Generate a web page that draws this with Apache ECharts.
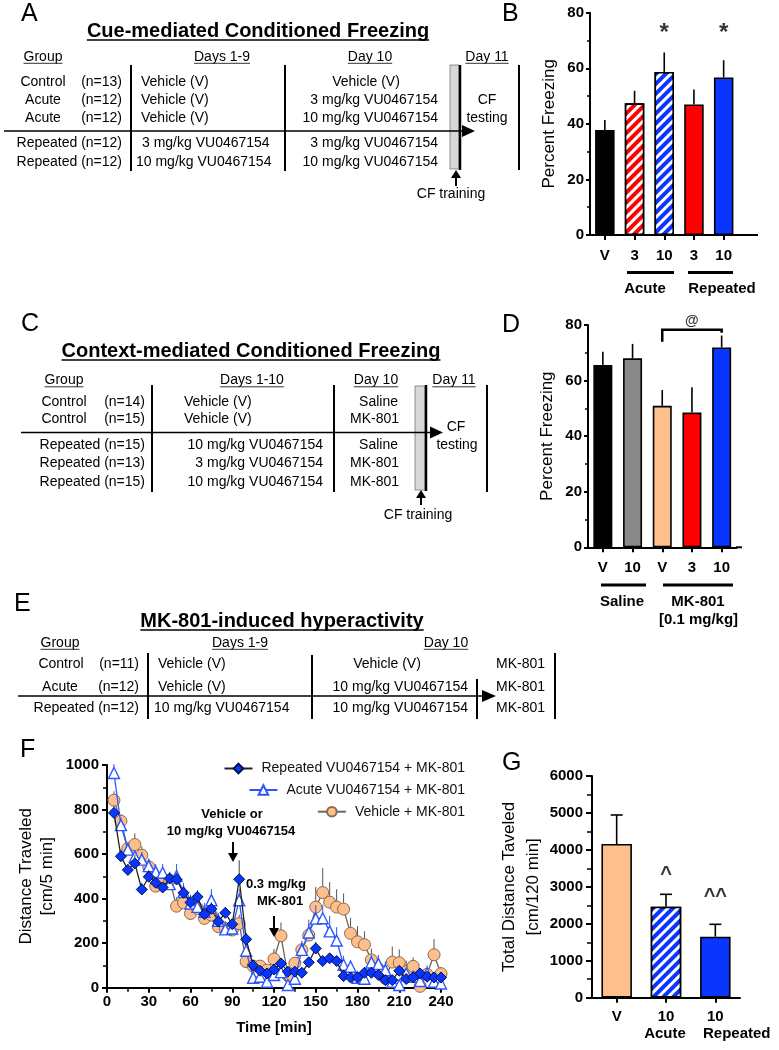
<!DOCTYPE html>
<html>
<head>
<meta charset="utf-8">
<script src="https://cdn.jsdelivr.net/npm/echarts@6/dist/echarts.min.js"></script>
<style>
html,body{margin:0;padding:0;background:#fff;}
#chart{width:779px;height:1050px;}
</style>
</head>
<body>
<div id="chart"></div>
<script>
// ---------------- DATA ----------------
// Panel B: cue-mediated freezing
const bCats = ['V', '3', '10', '3', '10'];
const bValues = [37.8, 47.4, 58.7, 47.0, 56.7];
const bErrors = [3.6, 4.5, 7.0, 5.4, 6.2];
const bSigPos = [[2, 72.5], [4, 72.5]];
const bSigText = ['*', '*'];

// Panel D: context-mediated freezing
const dCats = ['V', '10', 'V', '3', '10'];
const dValues = [65.6, 68.0, 50.9, 48.5, 71.9];
const dErrors = [4.8, 5.2, 5.7, 9.1, 4.3];
const dBracket = [2, 4, 78.3, 74, 77.2]; // from idx, to idx, top, left end, right end
const dSigPos = [[3, 81.5]];

// Panel F: time course
const fTime = [5, 10, 15, 20, 25, 30, 35, 40, 45, 50, 55, 60, 65, 70, 75, 80, 85, 90, 95, 100, 105, 110, 115, 120,
  125, 130, 135, 140, 145, 150, 155, 160, 165, 170, 175, 180, 185, 190, 195, 200, 205, 210, 215, 220, 225, 230, 235, 240];
const fRepeated = [785, 590, 529, 558, 441, 498, 471, 450, 490, 486, 426, 383, 408, 330, 354, 297, 336, 285, 487, 217, 100, 76, 64, 82,
  109, 72, 72, 67, 114, 176, 120, 132, 120, 52, 46, 46, 67, 67, 57, 34, 34, 76, 39, 46, 64, 49, 46, 46];
const fAcute = [964, 730, 620, 588, 575, 546, 520, 516, 465, 501, 430, 378, 363, 341, 393, 300, 262, 266, 393, 166, 45, 49, 27, 57,
  70, 12, 40, 170, 248, 310, 312, 253, 212, 103, 94, 45, 40, 113, 107, 79, 27, 12, 64, 49, 30, 64, 27, 19];
const fVehicle = [842, 748, 625, 643, 595, 543, 456, 468, 483, 366, 381, 333, 356, 311, 326, 274, 266, 259, 288, 117, 97, 97, 79, 129,
  233, 55, 110, 170, 236, 362, 427, 384, 362, 353, 244, 206, 193, 125, 85, 42, 115, 112, 72, 96, 6, 60, 148, 63];
const fRepeatedErr = [30, 30, 25, 40, 30, 30, 25, 25, 30, 30, 30, 25, 30, 25, 30, 25, 25, 25, 85, 30, 20, 15, 15, 20,
  20, 15, 15, 15, 20, 30, 20, 20, 20, 15, 15, 15, 15, 15, 15, 10, 10, 15, 15, 15, 15, 15, 15, 15];
const fAcuteErr = [40, 35, 30, 30, 35, 35, 35, 40, 55, 55, 40, 40, 40, 40, 50, 35, 35, 35, 50, 30, 20, 20, 20, 20,
  30, 20, 20, 35, 40, 60, 60, 70, 60, 40, 30, 20, 20, 35, 40, 40, 20, 20, 25, 25, 25, 25, 20, 20];
const fVehicleErr = [40, 30, 25, 50, 40, 35, 30, 35, 30, 40, 35, 30, 30, 30, 35, 30, 30, 30, 40, 30, 20, 20, 20, 45,
  60, 20, 25, 40, 70, 90, 110, 90, 80, 70, 70, 70, 60, 50, 40, 40, 70, 60, 50, 40, 20, 40, 70, 30];
const fNames = ['Repeated VU0467154 + MK-801', 'Acute VU0467154 + MK-801', 'Vehicle + MK-801'];

// Panel G: total distance
const gCats = ['V', '10', '10'];
const gGroups = ['', 'Acute', 'Repeated'];
const gValues = [4160, 2463, 1651];
const gErrors = [785, 335, 335];
const gSigPos = [[1, 3330], [2, 2740]];
const gSigText = ['^', '^^'];

// ---------------- STYLE ----------------
const FF = '"Liberation Sans", Arial, Helvetica, sans-serif';
const BLUE = '#0a35ff', RED = '#ff0000', PEACH = '#fdbf8b', GRAY = '#8a8a8a', BLACK = '#000';
const hatch = {symbol: 'rect', symbolSize: 1, color: '#ffffff', dashArrayX: [1, 0], dashArrayY: [3, 4], rotation: -Math.PI / 4};

const mctx = document.createElement('canvas').getContext('2d');
function fontStr(size, bold) { return (bold ? 'bold ' : '') + size + 'px ' + FF; }
function tw(s, font) { mctx.font = font; return mctx.measureText(s).width; }
function txt(s, x, y, size, o) {
  o = o || {};
  const al = o.align || 'left';
  return {type: 'text', silent: true, z: 50,
    style: {text: s, x: x, y: y, font: fontStr(size, o.bold), fill: '#000',
      textAlign: al, textVerticalAlign: 'middle', align: al, verticalAlign: 'middle'}};
}
function ln(x1, y1, x2, y2, w, c) {
  return {type: 'line', silent: true, z: 50, shape: {x1: x1, y1: y1, x2: x2, y2: y2}, style: {stroke: c || '#000', lineWidth: w || 1}};
}
function poly(pts) { return {type: 'polygon', silent: true, z: 50, shape: {points: pts}, style: {fill: '#000'}}; }
function utxt(s, x, y, size, o) {
  o = o || {};
  const w = tw(s, fontStr(size, o.bold));
  const al = o.align || 'left';
  const x0 = al === 'center' ? x - w / 2 : (al === 'right' ? x - w : x);
  const off = size * 0.45;
  return [txt(s, x, y, size, o), ln(x0, y + off, x0 + w, y + off, o.bold ? 1.6 : 1, o.bold ? '#000' : '#333')];
}

let G = [];
function add(a) { if (Array.isArray(a)) G = G.concat(a); else G.push(a); }

// ---- Panel A ----
add(txt('A', 21, 14, 25));
add(utxt('Cue-mediated Conditioned Freezing', 258, 31, 20, {bold: true, align: 'center'}));
add(utxt('Group', 43, 57, 14, {align: 'center'}));
add(utxt('Days 1-9', 222, 57, 14, {align: 'center'}));
add(utxt('Day 10', 370, 57, 14, {align: 'center'}));
add(utxt('Day 11', 487, 57, 14, {align: 'center'}));
const aY = [82, 100, 118.5, 143, 162];
add(txt('Control', 43, aY[0], 14, {align: 'center'}));
add(txt('Acute', 43, aY[1], 14, {align: 'center'}));
add(txt('Acute', 43, aY[2], 14, {align: 'center'}));
add(txt('(n=13)', 122, aY[0], 14, {align: 'right'}));
add(txt('(n=12)', 122, aY[1], 14, {align: 'right'}));
add(txt('(n=12)', 122, aY[2], 14, {align: 'right'}));
add(txt('Repeated (n=12)', 122, aY[3], 14, {align: 'right'}));
add(txt('Repeated (n=12)', 122, aY[4], 14, {align: 'right'}));
add(txt('Vehicle (V)', 141, aY[0], 14));
add(txt('Vehicle (V)', 141, aY[1], 14));
add(txt('Vehicle (V)', 141, aY[2], 14));
add(txt('3 mg/kg VU0467154', 142, aY[3], 14));
add(txt('10 mg/kg VU0467154', 136, aY[4], 14));
add(txt('Vehicle (V)', 366, aY[0], 14, {align: 'center'}));
add(txt('3 mg/kg VU0467154', 438, aY[1], 14, {align: 'right'}));
add(txt('10 mg/kg VU0467154', 438, aY[2], 14, {align: 'right'}));
add(txt('3 mg/kg VU0467154', 438, aY[3], 14, {align: 'right'}));
add(txt('10 mg/kg VU0467154', 438, aY[4], 14, {align: 'right'}));
add(txt('CF', 487, 100, 14, {align: 'center'}));
add(txt('testing', 487, 118.5, 14, {align: 'center'}));
add(ln(131, 65, 131, 171, 2));
add(ln(285, 65, 285, 171, 2));
add({type: 'rect', silent: true, z: 49, shape: {x: 450, y: 65, width: 9, height: 104}, style: {fill: '#d8d8d8', stroke: '#777', lineWidth: 0.8}});
add(ln(460, 65, 460, 170, 2.5));
add(ln(519, 65, 519, 170, 2));
add(ln(4, 131, 465, 131, 1.4));
add(poly([[462, 125], [475, 131], [462, 137]]));
add(ln(456, 186, 456, 176, 2));
add(poly([[451, 178], [456, 170], [461, 178]]));
add(txt('CF training', 451, 194, 14, {align: 'center'}));

// ---- Panel C ----
add(txt('C', 21, 324, 25));
add(utxt('Context-mediated Conditioned Freezing', 251, 351, 20, {bold: true, align: 'center'}));
add(utxt('Group', 64, 380.5, 14, {align: 'center'}));
add(utxt('Days 1-10', 252, 380.5, 14, {align: 'center'}));
add(utxt('Day 10', 376, 380.5, 14, {align: 'center'}));
add(utxt('Day 11', 454, 380.5, 14, {align: 'center'}));
const cY = [402.5, 419.5, 445.5, 463.5, 482];
add(txt('Control', 64, cY[0], 14, {align: 'center'}));
add(txt('Control', 64, cY[1], 14, {align: 'center'}));
add(txt('(n=14)', 145, cY[0], 14, {align: 'right'}));
add(txt('(n=15)', 145, cY[1], 14, {align: 'right'}));
add(txt('Repeated (n=15)', 145, cY[2], 14, {align: 'right'}));
add(txt('Repeated (n=13)', 145, cY[3], 14, {align: 'right'}));
add(txt('Repeated (n=15)', 145, cY[4], 14, {align: 'right'}));
add(txt('Vehicle (V)', 184, cY[0], 14));
add(txt('Vehicle (V)', 184, cY[1], 14));
add(txt('10 mg/kg VU0467154', 323, cY[2], 14, {align: 'right'}));
add(txt('3 mg/kg VU0467154', 323, cY[3], 14, {align: 'right'}));
add(txt('10 mg/kg VU0467154', 323, cY[4], 14, {align: 'right'}));
add(txt('Saline', 398, cY[0], 14, {align: 'right'}));
add(txt('MK-801', 399, cY[1], 14, {align: 'right'}));
add(txt('Saline', 398, cY[2], 14, {align: 'right'}));
add(txt('MK-801', 399, cY[3], 14, {align: 'right'}));
add(txt('MK-801', 399, cY[4], 14, {align: 'right'}));
add(ln(152, 385, 152, 492, 2));
add(ln(334, 385, 334, 492, 2));
add({type: 'rect', silent: true, z: 49, shape: {x: 415, y: 386, width: 10, height: 104}, style: {fill: '#d8d8d8', stroke: '#777', lineWidth: 0.8}});
add(ln(426, 385, 426, 491, 2.5));
add(ln(487, 385, 487, 492, 2));
add(ln(21, 432.5, 432, 432.5, 1.4));
add(poly([[430, 426.5], [443, 432.5], [430, 438.5]]));
add(txt('CF', 456, 427, 14, {align: 'center'}));
add(txt('testing', 457, 445.5, 14, {align: 'center'}));
add(ln(421, 505, 421, 496, 2));
add(poly([[416, 498], [421, 490], [426, 498]]));
add(txt('CF training', 418, 515.5, 14, {align: 'center'}));

// ---- Panel E ----
add(txt('E', 14, 604, 25));
add(utxt('MK-801-induced hyperactivity', 282, 621, 20, {bold: true, align: 'center'}));
add(utxt('Group', 60, 643, 14, {align: 'center'}));
add(utxt('Days 1-9', 240, 643, 14, {align: 'center'}));
add(utxt('Day 10', 446, 643, 14, {align: 'center'}));
const eY = [664, 687, 708];
add(txt('Control', 61, eY[0], 14, {align: 'center'}));
add(txt('Acute', 60, eY[1], 14, {align: 'center'}));
add(txt('(n=11)', 139, eY[0], 14, {align: 'right'}));
add(txt('(n=12)', 139, eY[1], 14, {align: 'right'}));
add(txt('Repeated (n=12)', 139, eY[2], 14, {align: 'right'}));
add(txt('Vehicle (V)', 158, eY[0], 14));
add(txt('Vehicle (V)', 158, eY[1], 14));
add(txt('10 mg/kg VU0467154', 154, eY[2], 14));
add(txt('Vehicle (V)', 387, eY[0], 14, {align: 'center'}));
add(txt('10 mg/kg VU0467154', 468, eY[1], 14, {align: 'right'}));
add(txt('10 mg/kg VU0467154', 468, eY[2], 14, {align: 'right'}));
add(txt('MK-801', 496, eY[0], 14));
add(txt('MK-801', 496, eY[1], 14));
add(txt('MK-801', 496, eY[2], 14));
add(ln(148, 653, 148, 719, 2));
add(ln(312, 655, 312, 719, 2));
add(ln(477, 679, 477, 719, 2));
add(ln(555, 653, 555, 719, 2));
add(ln(18, 696, 484, 696, 1.4));
add(poly([[482, 690], [496, 696], [482, 702]]));

// ---- Panel labels B, D, F, G ----
add(txt('B', 502, 14, 25));
add(txt('D', 502, 325, 25));
add(txt('F', 20, 750, 25));
add(txt('G', 502, 763, 25));

// ---- Panel B extras ----
add(ln(738, 235, 758, 235, 2));
add(ln(627, 272.5, 674, 272.5, 3));
add(ln(688, 272.5, 733, 272.5, 3));
add(txt('Acute', 645, 288.5, 15, {bold: true, align: 'center'}));
add(txt('Repeated', 722, 288.5, 15, {bold: true, align: 'center'}));

// ---- Panel D extras ----
add(ln(736, 547.3, 742, 547.3, 2));
add(ln(601, 585, 646, 585, 3));
add(ln(663, 585, 733, 585, 3));
add(txt('Saline', 622, 602, 15, {bold: true, align: 'center'}));
add(txt('MK-801', 698, 602, 15, {bold: true, align: 'center'}));
add(txt('[0.1 mg/kg]', 698.5, 620, 15, {bold: true, align: 'center'}));

// ---- Panel G group labels ----
add(txt(gGroups[1], 665, 1033.5, 15, {bold: true, align: 'center'}));
add(txt(gGroups[2], 703, 1033.5, 15, {bold: true}));

// ---- Panel F annotations ----
add(txt('Vehicle or', 232, 814, 13, {bold: true, align: 'center'}));
add(txt('10 mg/kg VU0467154', 231, 831.5, 13, {bold: true, align: 'center'}));
add(ln(233, 842, 233, 856, 2));
add(poly([[228, 853], [233, 862], [238, 853]]));
add(txt('0.3 mg/kg', 276, 884, 13, {bold: true, align: 'center'}));
add(txt('MK-801', 280, 901.5, 13, {bold: true, align: 'center'}));
add(ln(274, 916, 274, 930, 2));
add(poly([[269, 928], [274, 937], [279, 928]]));

// ---------------- helpers for series ----------------
function errSeries(xi, yi, xs, vals, errs, color, width, cap, z) {
  return {
    type: 'custom', xAxisIndex: xi, yAxisIndex: yi, z: z, silent: true,
    data: vals.map((v, i) => [xs[i], v, errs[i]]),
    renderItem: function (params, api) {
      const x = api.value(0), y = api.value(1), e = api.value(2);
      const p0 = api.coord([x, y]), p1 = api.coord([x, y + e]);
      const ch = [{type: 'line', shape: {x1: p0[0], y1: p0[1], x2: p1[0], y2: p1[1]}, style: {stroke: color, lineWidth: width}}];
      if (cap) ch.push({type: 'line', shape: {x1: p1[0] - cap, y1: p1[1], x2: p1[0] + cap, y2: p1[1]}, style: {stroke: color, lineWidth: width}});
      return {type: 'group', children: ch};
    }
  };
}
function sigSeries(xi, yi, pos, texts, size) {
  return {
    type: 'scatter', xAxisIndex: xi, yAxisIndex: yi, symbolSize: 1, z: 20, silent: true, clip: false,
    itemStyle: {color: 'rgba(0,0,0,0)'},
    data: pos.map((p, i) => ({value: p, label: {formatter: texts[i]}})),
    label: {show: true, position: 'inside', color: '#000', fontSize: size, fontWeight: 'bold', fontFamily: FF}
  };
}
function valAxis(gi, min, max, interval, name, nameGap, lh, tickLen, margin) {
  return {
    type: 'value', gridIndex: gi, min: min, max: max, interval: interval,
    axisLine: {show: true, lineStyle: {color: '#000', width: 2}},
    axisTick: {show: true, length: tickLen, lineStyle: {color: '#000', width: 2}},
    minorTick: {show: true, splitNumber: 2, length: tickLen - 1, lineStyle: {color: '#000', width: 1.5}},
    splitLine: {show: false}, minorSplitLine: {show: false},
    axisLabel: {color: '#000', fontSize: 15, fontWeight: 'bold', fontFamily: FF, margin: margin, formatter: v => String(v)},
    name: name, nameLocation: 'middle', nameGap: nameGap,
    nameTextStyle: {color: '#000', fontSize: 17, fontFamily: FF, lineHeight: lh}
  };
}
function catAxis(gi, cats, margin) {
  return {
    type: 'category', gridIndex: gi, data: cats,
    axisLine: {show: true, lineStyle: {color: '#000', width: 2}},
    axisTick: {show: true, alignWithLabel: true, interval: 0, length: 5, lineStyle: {color: '#000', width: 2}},
    axisLabel: {color: '#000', fontSize: 15, fontWeight: 'bold', fontFamily: FF, margin: margin, lineHeight: 17, interval: 0, hideOverlap: false}
  };
}

const bColors = [BLACK, RED, BLUE, RED, BLUE];
const bHatched = [false, true, true, false, false];
const dColors = [BLACK, GRAY, PEACH, RED, BLUE];
const gColors = [PEACH, BLUE, BLUE];
const gHatched = [false, true, false];

const option = {
  animation: false,
  backgroundColor: '#fff',
  textStyle: {fontFamily: FF},
  grid: [
    {left: 590, top: 12.7, width: 148.5, height: 222.3},
    {left: 588, top: 325, width: 148.5, height: 222.3},
    {left: 107, top: 765, width: 334, height: 222.7},
    {left: 592, top: 776, width: 148, height: 221.7}
  ],
  xAxis: [
    catAxis(0, bCats, 12),
    catAxis(1, dCats, 12),
    {type: 'value', gridIndex: 2, min: 0, max: 240, interval: 30,
      axisLine: {show: true, lineStyle: {color: '#000', width: 2}},
      axisTick: {show: true, length: 5, lineStyle: {color: '#000', width: 2}},
      minorTick: {show: true, splitNumber: 2, length: 4, lineStyle: {color: '#000', width: 1.5}},
      splitLine: {show: false},
      axisLabel: {color: '#000', fontSize: 15, fontWeight: 'bold', fontFamily: FF, margin: 7, formatter: v => String(v)},
      name: 'Time [min]', nameLocation: 'middle', nameGap: 33,
      nameTextStyle: {color: '#000', fontSize: 15, fontWeight: 'bold', fontFamily: FF}},
    catAxis(3, gCats, 11)
  ],
  yAxis: [
    valAxis(0, 0, 80, 20, 'Percent Freezing', 31, 20, 4, 6),
    valAxis(1, 0, 80, 20, 'Percent Freezing', 31, 20, 4, 6),
    valAxis(2, 0, 1000, 200, 'Distance Traveled\n[cm/5 min]', 49, 21, 5, 8),
    valAxis(3, 0, 6000, 1000, 'Total Distance Taveled\n[cm/120 min]', 42, 24, 6, 9)
  ],
  legend: fNames.map((n, i) => ({
    data: [n], right: 309, top: [756.5, 778, 799.7][i], orient: 'horizontal',
    itemWidth: 28, itemHeight: 12, selectedMode: false,
    textStyle: {fontSize: 14, color: '#111', fontFamily: FF, padding: [0, 0, 0, 4]}
  })),
  series: [
    // B
    {type: 'bar', xAxisIndex: 0, yAxisIndex: 0, barWidth: 19.5, z: 3,
      data: bValues.map((v, i) => ({value: v, itemStyle: {color: bColors[i], borderColor: '#000', borderWidth: 1.6, decal: bHatched[i] ? hatch : null}}))},
    errSeries(0, 0, [0, 1, 2, 3, 4], bValues, bErrors, '#000', 1.6, 0, 2),
    sigSeries(0, 0, bSigPos, bSigText, 24),
    // D
    {type: 'bar', xAxisIndex: 1, yAxisIndex: 1, barWidth: 19, z: 3,
      data: dValues.map((v, i) => ({value: v, itemStyle: {color: dColors[i], borderColor: '#000', borderWidth: 1.6}}))},
    errSeries(1, 1, [0, 1, 2, 3, 4], dValues, dErrors, '#000', 1.6, 0, 2),
    {type: 'custom', xAxisIndex: 1, yAxisIndex: 1, z: 5, silent: true, data: [dBracket],
      renderItem: function (params, api) {
        const a = api.value(0), b = api.value(1), top = api.value(2), le = api.value(3), re = api.value(4);
        const p0 = api.coord([a, le]), p1 = api.coord([a, top]), p2 = api.coord([b, top]), p3 = api.coord([b, re]);
        return {type: 'polyline', shape: {points: [p0, p1, p2, p3]}, style: {stroke: '#000', lineWidth: 2.5, fill: null}};
      }},
    sigSeries(1, 1, dSigPos, ['@'], 14),
    // F error bars and lines
    errSeries(2, 2, fTime, fVehicle, fVehicleErr, '#555', 1, 0, 1),
    {type: 'line', name: fNames[2], xAxisIndex: 2, yAxisIndex: 2, z: 2,
      data: fTime.map((t, i) => [t, fVehicle[i]]),
      symbol: 'circle', symbolSize: 12,
      lineStyle: {color: '#666', width: 1.3},
      itemStyle: {color: PEACH, borderColor: '#8c6a4f', borderWidth: 1}},
    errSeries(2, 2, fTime, fAcute, fAcuteErr, '#2c55ff', 1, 0, 3),
    {type: 'line', name: fNames[1], xAxisIndex: 2, yAxisIndex: 2, z: 4,
      data: fTime.map((t, i) => [t, fAcute[i]]),
      symbol: 'triangle', symbolSize: 11,
      lineStyle: {color: '#2c55ff', width: 1.3},
      itemStyle: {color: '#ffffff', borderColor: '#2c55ff', borderWidth: 1.4}},
    errSeries(2, 2, fTime, fRepeated, fRepeatedErr, '#444', 1, 0, 5),
    {type: 'line', name: fNames[0], xAxisIndex: 2, yAxisIndex: 2, z: 6,
      data: fTime.map((t, i) => [t, fRepeated[i]]),
      symbol: 'diamond', symbolSize: 11,
      lineStyle: {color: '#222', width: 1.3},
      itemStyle: {color: BLUE, borderColor: '#00124d', borderWidth: 1}},
    // G
    {type: 'bar', xAxisIndex: 3, yAxisIndex: 3, barWidth: 30.5, z: 3,
      data: gValues.map((v, i) => ({value: v, itemStyle: {color: gColors[i], borderColor: '#000', borderWidth: 1.6, decal: gHatched[i] ? hatch : null}}))},
    errSeries(3, 3, [0, 1, 2], gValues, gErrors, '#000', 1.6, 6, 2),
    sigSeries(3, 3, gSigPos, gSigText, 20)
  ],
  graphic: {elements: G}
};

const chart = echarts.init(document.getElementById('chart'), null, {renderer: 'canvas', width: 779, height: 1050});
chart.setOption(option);
</script>
</body>
</html>
